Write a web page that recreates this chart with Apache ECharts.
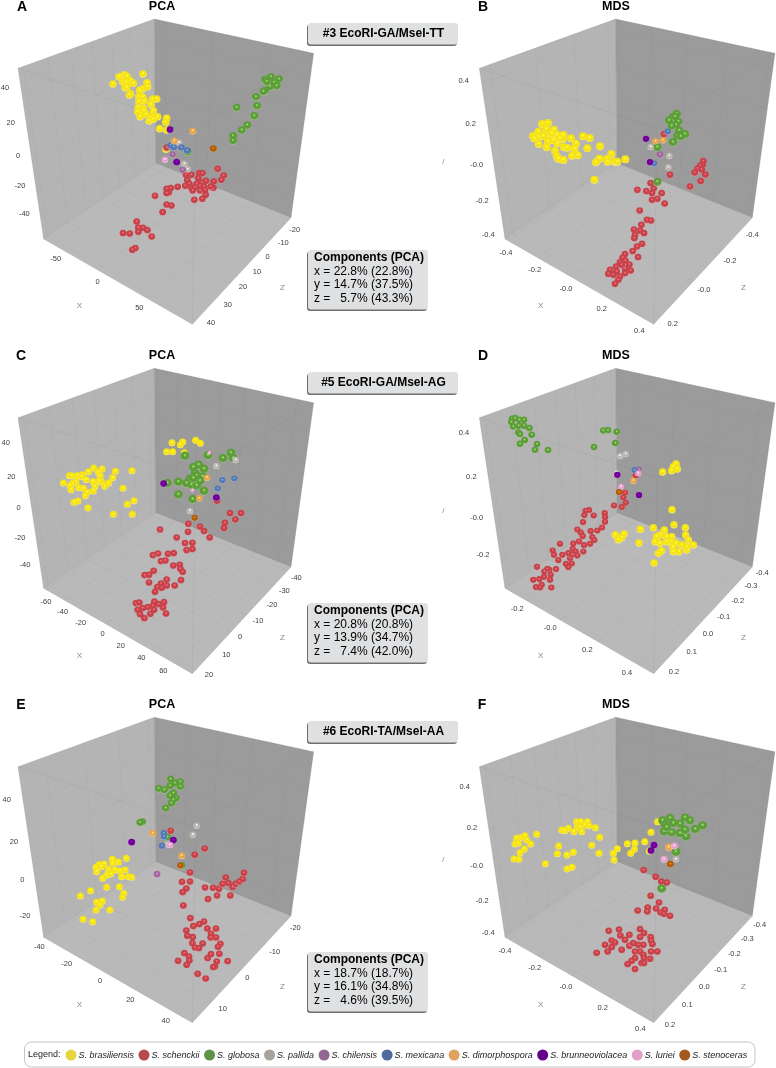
<!DOCTYPE html>
<html>
<head>
<meta charset="utf-8">
<title>PCA / MDS</title>
<style>
  html, body { margin: 0; padding: 0; background: #fff; }
  #chart { width: 776px; height: 1068px; }
</style>
<script src="https://cdn.jsdelivr.net/npm/echarts@6/dist/echarts.min.js"></script>
</head>
<body>
<div id="chart"></div>
<script>
const speciesNames = ['S. brasiliensis', 'S. schenckii', 'S. globosa', 'S. pallida', 'S. chilensis', 'S. mexicana', 'S. dimorphospora', 'S. brunneoviolacea', 'S. luriei', 'S. stenoceras']

// projected positions, one unit = 1/3 px of the panel
const aBrasiliensis = [[339,252],[357,230],[373,224],[381,229],[368,245],[378,245],[392,243],[400,250],[375,263],[381,262],[391,281],[388,285],[429,222],[441,248],[443,260],[428,266],[419,271],[416,290],[428,291],[433,302],[417,305],[458,297],[470,297],[453,313],[415,322],[430,325],[413,335],[432,332],[460,332],[424,342],[437,343],[420,350],[449,352],[462,350],[473,350],[447,363],[460,358],[500,355],[497,367],[479,386],[500,390],[498,448]]
const aSchenckii = [[500,443],[653,507],[671,527],[664,540],[641,545],[640,564],[632,560],[618,543],[598,520],[607,520],[574,525],[558,525],[562,541],[595,535],[605,548],[590,552],[568,552],[556,558],[533,561],[512,565],[500,567],[506,578],[500,580],[465,588],[575,565],[585,562],[600,558],[612,560],[578,572],[600,572],[615,570],[617,585],[607,597],[583,600],[500,614],[514,617],[488,637],[410,665],[415,683],[429,684],[442,691],[415,696],[455,710],[369,700],[389,701],[406,745],[397,750]]
const aGlobosa = [[837,238],[813,231],[795,239],[823,248],[810,260],[795,272],[800,245],[830,258],[790,275],[768,291],[771,318],[710,323],[763,348],[742,376],[725,391],[699,408],[699,422],[563,456]]
const aPallida = [[537,428],[553,492],[563,508]]
const aChilensis = [[518,464],[548,510]]
const aMexicana = [[512,437],[521,442],[544,443],[562,452]]
const aDimorphospora = [[578,393],[523,423]]
const aBrunneoviolacea = [[510,389],[530,487]]
const aLuriei = [[495,479]]
const aStenoceras = [[640,446]]

const bBrasiliensis = [[324,369],[306,372],[318,387],[342,389],[295,395],[279,408],[283,415],[296,410],[310,408],[326,408],[340,420],[352,405],[370,405],[368,417],[393,415],[408,431],[429,409],[449,414],[324,424],[320,442],[296,432],[352,430],[345,452],[372,442],[382,443],[403,447],[442,445],[480,439],[350,468],[355,476],[370,480],[396,467],[413,466],[514,462],[478,476],[468,487],[501,477],[503,485],[524,485],[532,485],[556,478],[463,539],[335,400],[360,415]]
const bSchenckii = [[672,403],[790,484],[788,495],[781,497],[773,506],[785,509],[796,524],[764,518],[782,544],[750,560],[690,525],[632,550],[641,566],[592,570],[619,574],[636,580],[665,580],[652,597],[636,600],[674,611],[599,632],[621,660],[633,662],[604,675],[582,689],[600,692],[612,700],[585,705],[583,715],[606,732],[591,740],[578,754],[594,772],[555,763],[548,773],[556,782],[540,787],[568,794],[528,800],[555,806],[510,810],[572,812],[505,822],[530,815],[555,820],[540,830],[535,840],[525,852],[545,795],[520,825]]
const bGlobosa = [[710,342],[698,352],[687,362],[705,350],[715,365],[708,375],[695,378],[718,392],[735,403],[712,408],[722,410],[699,427],[652,442],[652,546]]
const bPallida = [[632,441],[688,468],[685,502]]
const bChilensis = [[660,464]]
const bMexicana = [[683,395],[642,491]]
const bDimorphospora = [[647,424],[669,421]]
const bBrunneoviolacea = [[618,417],[630,487]]

const cBrasiliensis = [[516,293],[548,291],[541,299],[587,286],[601,295],[500,320],[518,320],[553,323],[190,414],[208,392],[215,392],[232,392],[247,389],[265,380],[281,369],[306,372],[295,382],[300,392],[346,379],[396,377],[338,398],[326,414],[301,403],[305,412],[280,410],[259,404],[228,410],[218,415],[210,422],[213,434],[236,428],[250,430],[262,442],[280,438],[285,424],[314,424],[256,452],[369,430],[222,472],[234,468],[264,489],[340,508],[382,478],[402,467],[397,508],[245,395],[298,408]]
const cSchenckii = [[651,468],[690,505],[723,505],[706,524],[675,534],[672,550],[565,537],[600,545],[612,559],[629,578],[564,561],[480,554],[530,578],[555,595],[577,594],[560,616],[577,613],[459,631],[474,626],[504,627],[521,625],[483,649],[496,647],[520,662],[539,660],[541,672],[548,681],[461,678],[434,691],[447,690],[447,713],[543,706],[500,704],[524,722],[500,722],[483,716],[472,727],[485,729],[465,741],[408,775],[418,773],[463,770],[492,772],[476,778],[458,783],[443,787],[428,790],[489,788],[462,795],[413,795],[420,808],[451,807],[498,806],[433,820]]
const cGlobosa = [[555,333],[624,331],[669,340],[693,324],[700,340],[596,360],[580,367],[612,372],[585,385],[608,395],[590,392],[600,408],[570,402],[535,411],[502,415],[560,415],[575,420],[590,422],[612,438],[535,449],[578,463],[580,400]]
const cPallida = [[649,363],[707,345],[570,498]]
const cMexicana = [[667,406],[703,401],[653,431]]
const cDimorphospora = [[621,398],[598,460]]
const cBrunneoviolacea = [[491,416],[649,458]]
const cLuriei = [[628,323],[577,436]]
const cStenoceras = [[584,519]]

const dBrasiliensis = [[708,357],[700,365],[712,372],[695,377],[668,381],[696,494],[702,539],[736,548],[640,548],[673,555],[601,553],[737,570],[745,585],[760,600],[660,570],[650,575],[680,575],[695,575],[690,590],[660,595],[645,590],[708,595],[725,600],[740,615],[698,605],[700,620],[717,620],[665,617],[655,625],[597,594],[526,570],[552,567],[545,578],[535,584],[642,654],[680,590],[740,605]]
const dSchenckii = [[587,392],[555,444],[550,458],[557,474],[545,487],[522,482],[447,496],[437,498],[433,511],[461,512],[494,505],[495,517],[495,531],[429,532],[486,548],[472,557],[452,559],[412,554],[422,563],[428,574],[457,577],[463,586],[417,590],[450,597],[400,596],[432,601],[360,597],[338,617],[342,630],[367,630],[355,646],[390,640],[398,612],[385,625],[395,630],[407,620],[430,620],[412,632],[378,657],[395,656],[385,667],[291,666],[348,673],[328,675],[313,680],[332,690],[312,696],[298,703],[280,705],[330,705],[305,720],[288,727],[334,728],[300,728],[322,672]]
const dGlobosa = [[216,222],[225,220],[238,225],[252,225],[214,232],[220,245],[236,243],[252,243],[268,250],[235,263],[240,268],[275,270],[254,286],[240,297],[291,298],[285,315],[324,316],[490,257],[504,256],[530,261],[526,295],[462,307]]
const dPallida = [[557,327],[540,333],[528,383]]
const dChilensis = [[597,373]]
const dMexicana = [[584,376]]
const dDimorphospora = [[580,407]]
const dBrunneoviolacea = [[532,390],[597,451]]
const dLuriei = [[595,385],[543,425]]
const dStenoceras = [[537,442]]

const eBrasiliensis = [[379,505],[337,508],[355,516],[297,524],[312,522],[338,520],[290,545],[288,532],[303,530],[325,538],[345,540],[360,543],[375,540],[320,555],[332,552],[308,565],[365,560],[385,560],[395,562],[320,592],[358,590],[272,602],[241,618],[371,610],[368,622],[307,633],[290,637],[300,645],[288,660],[330,660],[249,688],[278,695]]
const eSchenckii = [[512,423],[614,476],[584,495],[570,548],[546,576],[570,575],[559,596],[548,607],[615,593],[639,594],[657,597],[668,582],[677,563],[685,580],[698,592],[707,582],[718,575],[728,568],[732,549],[651,617],[624,628],[691,617],[550,647],[571,685],[612,695],[598,703],[580,709],[559,722],[622,716],[648,716],[633,732],[632,743],[648,743],[562,738],[578,742],[577,760],[608,761],[585,773],[597,775],[661,762],[654,771],[658,792],[633,793],[623,805],[553,790],[567,800],[568,812],[534,813],[560,825],[650,815],[645,830],[640,832],[683,814],[593,852],[617,866]]
const eGlobosa = [[512,268],[541,276],[525,280],[510,288],[541,290],[476,296],[493,300],[520,310],[510,318],[528,325],[520,330],[514,340],[497,355],[427,396],[420,398],[502,442],[545,527]]
const ePallida = [[590,407],[579,434],[503,463]]
const eChilensis = [[471,553]]
const eMexicana = [[491,430],[492,440],[486,468]]
const eDimorphospora = [[458,430],[545,497]]
const eBrunneoviolacea = [[395,457],[520,451]]
const eLuriei = [[510,465]]
const eStenoceras = [[541,527]]

const fBrasiliensis = [[653,395],[442,395],[410,395],[422,395],[435,405],[412,410],[420,412],[385,415],[365,420],[375,422],[402,425],[425,425],[447,407],[466,413],[290,433],[255,437],[240,443],[230,445],[260,450],[225,462],[235,460],[272,462],[253,477],[240,488],[222,507],[237,508],[479,442],[633,427],[614,455],[585,459],[562,461],[532,476],[583,478],[572,490],[455,466],[356,468],[352,491],[381,495],[400,487],[477,490],[520,490],[522,510],[316,521],[381,537],[396,532],[628,484]]
const fSchenckii = [[611,541],[647,561],[664,575],[680,578],[632,618],[657,638],[623,653],[648,656],[593,662],[622,665],[674,660],[662,668],[672,672],[690,678],[506,723],[537,719],[600,718],[541,737],[568,735],[612,730],[600,742],[632,742],[555,750],[515,752],[525,758],[495,765],[633,752],[568,768],[580,760],[595,765],[610,765],[637,763],[515,772],[545,780],[503,785],[470,789],[585,785],[600,785],[633,785],[652,785],[610,795],[585,805],[630,807],[612,805],[575,813],[563,823],[605,820],[612,820],[585,838]]
const fGlobosa = [[668,392],[690,385],[735,383],[750,392],[788,407],[766,418],[720,402],[700,400],[675,405],[672,425],[695,428],[720,430],[738,440],[680,412],[735,420],[708,486],[665,596]]
const fPallida = [[708,508]]
const fDimorphospora = [[686,472]]
const fBrunneoviolacea = [[642,466],[633,482]]
const fLuriei = [[703,468],[672,508]]
const fStenoceras = [[691,523]]

// tick labels: [text, x, y]
const aLabels = [['40',15,265],['20',32,370],['0',54,467],['-20',60,558],['-40',73,643],['-50',167,776],['0',293,845],['50',418,923],['-20',884,691],['-10',850,730],['0',803,771],['10',771,815],['20',729,862],['30',683,914],['40',633,969]]
const bLabels = [['0.4',71,244],['0.2',92,373],['-0.0',110,494],['-0.2',127,603],['-0.4',145,704],['-0.4',198,758],['-0.2',284,810],['-0.0',378,866],['0.2',485,926],['0.4',598,992],['-0.4',937,704],['-0.2',870,783],['-0.0',792,871],['0.2',698,971]]
const cLabels = [['40',17,295],['20',34,396],['0',56,490],['-20',60,578],['-40',75,661],['-60',138,771],['-40',188,802],['-20',242,833],['0',308,867],['20',362,902],['40',424,939],['60',490,978],['-40',889,698],['-30',853,738],['-20',816,781],['-10',774,827],['0',720,877],['10',679,931],['20',627,990]]
const dLabels = [['0.4',72,263],['0.2',94,396],['-0.0',110,518],['-0.2',129,630],['-0.2',232,792],['-0.0',331,850],['0.2',442,914],['0.4',561,984],['-0.4',967,683],['-0.3',933,724],['-0.2',893,768],['-0.1',851,815],['0.0',804,866],['0.1',755,921],['0.2',702,981]]
const eLabels = [['40',20,330],['20',42,456],['0',67,571],['-20',75,678],['-40',118,772],['-20',200,821],['0',300,874],['20',391,931],['40',497,994],['-20',886,713],['-10',824,785],['0',742,865],['10',668,956]]
const fLabels = [['0.4',74,291],['0.2',96,414],['-0.0',110,528],['-0.2',127,633],['-0.4',145,729],['-0.4',195,782],['-0.2',284,835],['-0.0',378,891],['0.2',488,953],['0.4',601,1018],['-0.4',959,706],['-0.3',922,747],['-0.2',883,792],['-0.1',842,839],['0.0',793,890],['0.1',742,945],['0.2',690,1006]]

const speciesColors = ['#f5e21a', '#c4444c', '#5f9c3c', '#bdb7b3', '#a0679c', '#5578b0', '#e8a650', '#6e0096', '#e8a2ce', '#b05c08']
const legendColors = ['#e6d53f', '#b84a4e', '#5f9448', '#a8a29c', '#936591', '#4f6a9c', '#e0a35f', '#64008a', '#e39fc9', '#a3581c']

// sphere diameter per species (px) for each panel
const sizesA = [7.5, 7, 8, 6.5, 6.5, 7, 7, 7, 6.5, 7]
const sizesB = [8, 7, 8.5, 6.5, 7, 6.5, 6.5, 6.5, 6.5, 6.5]
const sizesC = [7, 7, 9, 6.5, 6.5, 6.5, 6.5, 7, 4, 6.5]
const sizesD = [7.5, 6.5, 7, 6.5, 5.5, 6.5, 6.5, 6.5, 6, 6.5]
const sizesE = [7, 7, 7.5, 6.5, 7, 6.5, 7, 7, 6.5, 6.5]
const sizesF = [7, 7, 9, 6.5, 6.5, 6.5, 7.5, 7, 7, 7]

const panels = [
  { letter: 'A', method: 'PCA', left: 0, top: 0, width: 440, dx: 0, dy: 0, labels: aLabels,
    points: [aBrasiliensis, aSchenckii, aGlobosa, aPallida, aChilensis, aMexicana, aDimorphospora, aBrunneoviolacea, aLuriei, aStenoceras], sizes: sizesA,
    xRange: [-63, 90], yRange: [-55, 53], zRange: [-25, 42], xTicks: [-50, 0, 50], yTicks: [-40, -20, 0, 20, 40], zTicks: [-20, -10, 0, 10, 20, 30, 40] },
  { letter: 'B', method: 'MDS', left: 440, top: 0, width: 336, dx: 64, dy: 0, labels: bLabels,
    points: [bBrasiliensis, bSchenckii, bGlobosa, bPallida, bChilensis, bMexicana, bDimorphospora, bBrunneoviolacea, [], []], sizes: sizesB,
    xRange: [-.42, .42], yRange: [-.42, .47], zRange: [-.45, .24], xTicks: [-.4, -.2, 0, .2, .4], yTicks: [-.4, -.2, 0, .2, .4], zTicks: [-.4, -.2, 0, .2] },
  { letter: 'C', method: 'PCA', left: 0, top: 345, width: 440, dx: 0, dy: 13, labels: cLabels,
    points: [cBrasiliensis, cSchenckii, cGlobosa, cPallida, [], cMexicana, cDimorphospora, cBrunneoviolacea, cLuriei, cStenoceras], sizes: sizesC,
    xRange: [-63, 72], yRange: [-55, 57], zRange: [-43, 22], xTicks: [-60, -40, -20, 0, 20, 40, 60], yTicks: [-40, -20, 0, 20, 40], zTicks: [-40, -30, -20, -10, 0, 10, 20] },
  { letter: 'D', method: 'MDS', left: 440, top: 345, width: 336, dx: 64, dy: 13, labels: dLabels,
    points: [dBrasiliensis, dSchenckii, dGlobosa, dPallida, dChilensis, dMexicana, dDimorphospora, dBrunneoviolacea, dLuriei, dStenoceras], sizes: sizesD,
    xRange: [-.33, .46], yRange: [-.36, .475], zRange: [-.43, .22], xTicks: [-.2, 0, .2, .4], yTicks: [-.2, 0, .2, .4], zTicks: [-.4, -.3, -.2, -.1, 0, .1, .2] },
  { letter: 'E', method: 'PCA', left: 0, top: 690, width: 440, dx: 0, dy: 25, labels: eLabels,
    points: [eBrasiliensis, eSchenckii, eGlobosa, ePallida, eChilensis, eMexicana, eDimorphospora, eBrunneoviolacea, eLuriei, eStenoceras], sizes: sizesE,
    xRange: [-42, 52], yRange: [-31, 57], zRange: [-22, 16], xTicks: [-40, -20, 0, 20, 40], yTicks: [-20, 0, 20, 40], zTicks: [-20, -10, 0, 10] },
  { letter: 'F', method: 'MDS', left: 440, top: 690, width: 336, dx: 64, dy: 25, labels: fLabels,
    points: [fBrasiliensis, fSchenckii, fGlobosa, fPallida, [], [], fDimorphospora, fBrunneoviolacea, fLuriei, fStenoceras], sizes: sizesF,
    xRange: [-.42, .42], yRange: [-.42, .5], zRange: [-.43, .22], xTicks: [-.4, -.2, 0, .2, .4], yTicks: [-.4, -.2, 0, .2, .4], zTicks: [-.4, -.3, -.2, -.1, 0, .1, .2] }
]

// info boxes next to the left column
const markerTitles = ['#3 EcoRI-GA/MseI-TT', '#5 EcoRI-GA/MseI-AG', '#6 EcoRI-TA/MseI-AA']
const markerTops = [23, 372, 721]
const componentTops = [250, 603, 952]
const componentLines = [
  ['x = 22.8% (22.8%)', 'y = 14.7% (37.5%)', 'z =   5.7% (43.3%)'],
  ['x = 20.8% (20.8%)', 'y = 13.9% (34.7%)', 'z =   7.4% (42.0%)'],
  ['x = 18.7% (18.7%)', 'y = 16.1% (34.8%)', 'z =   4.6% (39.5%)']
]

// corners of the cube in panel A units, the others are shifted by dx/dy
const cube = { lb: [131, 717], lt: [54, 205], bt: [463, 57], bb: [467, 490], rt: [941, 160], rb: [873, 653], fb: [577, 973], ft: [587, 385] }

const fontFamily = '"Liberation Sans", Arial, sans-serif'

const chart = echarts.init(document.getElementById('chart'), null, { renderer: 'canvas' })

// perspective interpolation inside a quad, q = [p00, p10, p11, p01]
const quadPoint = (q, u, v) => {
  const [[x0, y0], [x1, y1], [x2, y2], [x3, y3]] = q
  const dx1 = x1 - x2, dx2 = x3 - x2, sx = x0 - x1 + x2 - x3
  const dy1 = y1 - y2, dy2 = y3 - y2, sy = y0 - y1 + y2 - y3
  const den = dx1 * dy2 - dx2 * dy1
  const g = (sx * dy2 - dx2 * sy) / den
  const h = (dx1 * sy - sx * dy1) / den
  const w = g * u + h * v + 1
  return [
    ((x1 - x0 + g * x1) * u + (x3 - x0 + h * x3) * v + x0) / w,
    ((y1 - y0 + g * y1) * u + (y3 - y0 + h * y3) * v + y0) / w
  ]
}

const fractions = (ticks, range) => ticks.map(t => (t - range[0]) / (range[1] - range[0]))

const renderCube = (p) => (params, api) => {
  const c = {}
  Object.keys(cube).forEach(k => { c[k] = [cube[k][0] + p.dx, cube[k][1] + p.dy] })
  const px = pt => api.coord(pt)
  const poly = (pts, fill) => ({ type: 'polygon', shape: { points: pts.map(px) }, style: { fill, stroke: 'rgba(130,130,130,0.35)', lineWidth: 0.6 } })
  const line = (a, b, op) => {
    const pa = px(a), pb = px(b)
    return { type: 'line', shape: { x1: pa[0], y1: pa[1], x2: pb[0], y2: pb[1] }, style: { stroke: `rgba(80,80,80,${op})`, lineWidth: 0.6 } }
  }
  const leftWall = [c.bb, c.lb, c.lt, c.bt]
  const rightWall = [c.bb, c.rb, c.rt, c.bt]
  const floor = [c.bb, c.rb, c.fb, c.lb]
  const xf = fractions(p.xTicks, p.xRange), yf = fractions(p.yTicks, p.yRange), zf = fractions(p.zTicks, p.zRange)
  const children = [poly(leftWall, '#b4b4b4'), poly(rightWall, '#9b9b9b'), poly(floor, '#b9b9b9')]
  const op = 0.07
  zf.forEach(f => {
    children.push(line(quadPoint(leftWall, f, 0), quadPoint(leftWall, f, 1), op))
    children.push(line(quadPoint(floor, 0, f), quadPoint(floor, 1, f), op))
  })
  xf.forEach(f => {
    children.push(line(quadPoint(rightWall, f, 0), quadPoint(rightWall, f, 1), op))
    children.push(line(quadPoint(floor, f, 0), quadPoint(floor, f, 1), op))
  })
  yf.forEach(f => {
    children.push(line(quadPoint(leftWall, 0, f), quadPoint(leftWall, 1, f), op))
    children.push(line(quadPoint(rightWall, 0, f), quadPoint(rightWall, 1, f), op))
  })
  children.push(line(c.lt, c.ft, 0.12), line(c.rt, c.ft, 0.12), line(c.fb, c.ft, 0.12))
  return { type: 'group', children }
}

const sphereColor = (color) => ({
  type: 'radial', x: 0.5, y: 0.4, r: 0.6,
  colorStops: [
    { offset: 0, color: echarts.color.lift(color, -0.8) },
    { offset: 0.14, color: echarts.color.lift(color, -0.35) },
    { offset: 0.32, color },
    { offset: 0.78, color },
    { offset: 1, color: echarts.color.lift(color, 0.45) }
  ]
})

const grids = [], xAxes = [], yAxes = [], series = []

panels.forEach((p, i) => {
  grids.push({ left: p.left, top: p.top, width: p.width, height: 340 })
  xAxes.push({ type: 'value', gridIndex: i, min: 0, max: p.width * 3, show: false })
  yAxes.push({ type: 'value', gridIndex: i, min: 0, max: 1020, inverse: true, show: false })

  series.push({
    type: 'custom', name: 'cube ' + p.letter, xAxisIndex: i, yAxisIndex: i, silent: true,
    data: [[0, 0]], renderItem: renderCube(p), z: 1
  })

  p.points.forEach((pts, s) => {
    if (!pts.length) return
    series.push({
      type: 'scatter', name: speciesNames[s], xAxisIndex: i, yAxisIndex: i,
      data: pts, symbol: 'circle', symbolSize: p.sizes[s], z: 3,
      itemStyle: { color: sphereColor(speciesColors[s]), opacity: 1 }
    })
  })

  const axisText = p.labels.concat([['X', p.method === 'PCA' ? 238 : 302, 918 + p.dy], ['Z', p.method === 'PCA' ? 847 : 910, 864 + p.dy]])
  if (p.method === 'MDS') axisText.push(['/', 10, 484 + p.dy])
  series.push({
    type: 'custom', name: 'ticks ' + p.letter, xAxisIndex: i, yAxisIndex: i, silent: true, z: 4,
    data: axisText.map(t => [t[1], t[2]]),
    renderItem: (params, api) => {
      const pos = api.coord([api.value(0), api.value(1)])
      const text = axisText[params.dataIndex][0]
      const isName = text === 'X' || text === 'Z' || text === '/'
      return {
        type: 'text', x: pos[0], y: pos[1],
        style: { text, fill: isName ? '#8a8a8a' : '#3c3c3c', font: `${isName ? 8 : 7.5}px ${fontFamily}`, textAlign: 'center', textVerticalAlign: 'middle' }
      }
    }
  })
})

const txt = (text, x, y, font, align, fill) => ({
  type: 'text', x, y, z: 20,
  style: { text, font: `${font} ${fontFamily}`, fill: fill || '#000', textAlign: align || 'left', textVerticalAlign: 'middle' }
})

const box = (x, y, w, h) => [
  { type: 'rect', z: 18, shape: { x: x - 1, y: y + 1.5, width: w, height: h, r: 3 }, style: { fill: '#6f6f6f' } },
  { type: 'rect', z: 19, shape: { x, y, width: w, height: h, r: 3 }, style: { fill: '#dfe0e2' } }
]

const graphics = []
const panelHeads = [[22, 7, 162, 6], [483, 7, 616, 6], [21, 356, 162, 355], [483, 356, 616, 355], [21, 705, 162, 704], [482, 705, 616, 704]]
panels.forEach((p, i) => {
  const h = panelHeads[i]
  graphics.push(txt(p.letter, h[0], h[1], 'bold 14px', 'center'), txt(p.method, h[2], h[3] + 0.5, 'bold 12.5px', 'center'))
})
markerTitles.forEach((t, i) => {
  graphics.push(...box(308, markerTops[i], 150, 21.5), txt(t, 383.5, markerTops[i] + 10.5, 'bold 12px', 'center'))
})
componentLines.forEach((lines, i) => {
  const top = componentTops[i]
  graphics.push(...box(308, top, 120, 59.5), txt('Components (PCA)', 314, top + 8, 'bold 12px'))
  lines.forEach((l, k) => graphics.push(txt(l, 314, top + 21.5 + k * 13.4, '12px')))
})
// legend frame
graphics.push({ type: 'rect', z: 0, shape: { x: 24.5, y: 1042, width: 730.5, height: 25, r: 7 }, style: { fill: '#fff', stroke: '#c4c4c4', lineWidth: 1 } })
graphics.push(txt('Legend:', 28, 1055, '9px', 'left', '#222'))

chart.setOption({
  animation: false,
  backgroundColor: '#fff',
  grid: grids,
  xAxis: xAxes,
  yAxis: yAxes,
  legend: {
    left: 65.5, top: 1049.5, orient: 'horizontal', selectedMode: false, itemWidth: 11, itemHeight: 11, itemGap: 4.5, padding: 0,
    data: speciesNames.map((name, i) => ({ name, icon: 'circle', itemStyle: { color: legendColors[i] } })),
    textStyle: { fontFamily, fontStyle: 'italic', fontSize: 9, color: '#222', padding: [0, 0, 0, -3] }
  },
  graphic: graphics,
  series
})
</script>
</body>
</html>
